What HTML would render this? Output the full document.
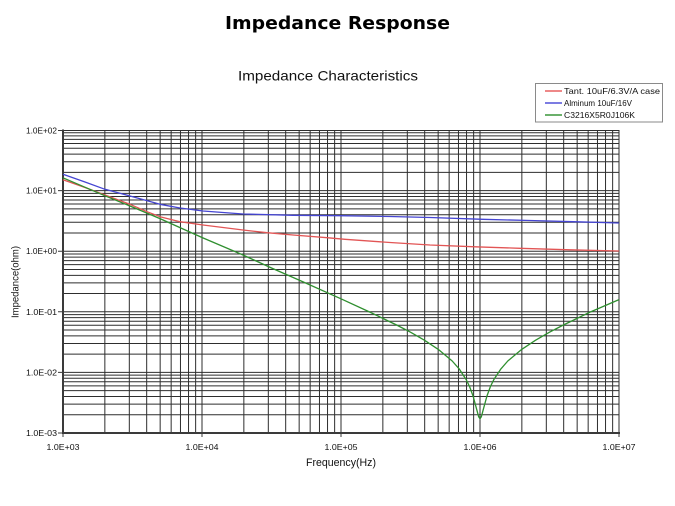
<!DOCTYPE html>
<html>
<head>
<meta charset="utf-8">
<style>
  html,body{margin:0;padding:0;background:#fff;}
  svg{display:block;}
</style>
</head>
<body>
<svg width="675" height="506" viewBox="0 0 675 506" xmlns="http://www.w3.org/2000/svg">
  <rect x="0" y="0" width="675" height="506" fill="#fff"/>

  <!-- Titles -->
  <text x="337.5" y="29" text-anchor="middle" font-family="DejaVu Sans, Liberation Sans, sans-serif" font-weight="bold" font-size="18" textLength="225" lengthAdjust="spacingAndGlyphs" fill="#000">Impedance Response</text>
  <text x="328" y="80.5" text-anchor="middle" font-family="Liberation Sans, sans-serif" font-size="14" textLength="180" lengthAdjust="spacingAndGlyphs" fill="#111">Impedance Characteristics</text>

  <!-- Legend -->
  <rect x="535.5" y="83.5" width="127" height="38.5" fill="#fff" stroke="#8a8a8a" stroke-width="1"/>
  <line x1="545" y1="91" x2="562" y2="91" stroke="#e86060" stroke-width="1.5"/>
  <line x1="545" y1="103" x2="562" y2="103" stroke="#5050d8" stroke-width="1.5"/>
  <line x1="545" y1="115" x2="562" y2="115" stroke="#3a963a" stroke-width="1.5"/>
  <g font-family="Liberation Sans, sans-serif" font-size="8.5" fill="#111">
    <text x="564" y="94" textLength="96" lengthAdjust="spacingAndGlyphs">Tant. 10uF/6.3V/A case</text>
    <text x="564" y="106" textLength="68" lengthAdjust="spacingAndGlyphs">Alminum 10uF/16V</text>
    <text x="564" y="118" textLength="71" lengthAdjust="spacingAndGlyphs">C3216X5R0J106K</text>
  </g>

  <!-- Grid -->
  <g stroke="#2e2e2e" stroke-width="1" fill="none">
    <!-- vertical lines -->
    <path d="
      M104.85 130V433 M129.32 130V433 M146.68 130V433 M160.16 130V433 M171.16 130V433 M180.47 130V433 M188.53 130V433 M195.64 130V433 M202 130V433
      M243.85 130V433 M268.32 130V433 M285.68 130V433 M299.16 130V433 M310.16 130V433 M319.47 130V433 M327.53 130V433 M334.64 130V433 M341 130V433
      M382.85 130V433 M407.32 130V433 M424.68 130V433 M438.16 130V433 M449.16 130V433 M458.47 130V433 M466.53 130V433 M473.64 130V433 M480 130V433
      M521.85 130V433 M546.32 130V433 M563.68 130V433 M577.16 130V433 M588.16 130V433 M597.47 130V433 M605.53 130V433 M612.64 130V433 M619 130V433
    "/>
    <!-- horizontal lines -->
    <path d="
      M63 414.76H619 M63 404.09H619 M63 396.52H619 M63 390.64H619 M63 385.85H619 M63 381.79H619 M63 378.27H619 M63 375.17H619 M63 372.4H619
      M63 354.16H619 M63 343.49H619 M63 335.92H619 M63 330.04H619 M63 325.25H619 M63 321.19H619 M63 317.67H619 M63 314.57H619 M63 311.8H619
      M63 293.56H619 M63 282.89H619 M63 275.32H619 M63 269.44H619 M63 264.65H619 M63 260.59H619 M63 257.07H619 M63 253.97H619 M63 251.2H619
      M63 232.96H619 M63 222.29H619 M63 214.72H619 M63 208.84H619 M63 204.05H619 M63 199.99H619 M63 196.47H619 M63 193.37H619 M63 190.6H619
      M63 172.36H619 M63 161.69H619 M63 154.12H619 M63 148.24H619 M63 143.45H619 M63 139.39H619 M63 135.87H619 M63 132.77H619 M63 130.5H619
    "/>
  </g>

  <!-- Axes -->
  <g stroke="#3a3a3a" fill="none">
    <line x1="63" y1="129.5" x2="63" y2="434" stroke-width="2"/>
    <line x1="62" y1="433" x2="620" y2="433" stroke-width="2"/>
    <!-- y ticks -->
    <path d="M58 130.5H63 M58 190.6H63 M58 251.2H63 M58 311.8H63 M58 372.4H63 M58 433H63" stroke-width="1"/>
    <!-- x ticks -->
    <path d="M63 433V437 M202 433V437 M341 433V437 M480 433V437 M619 433V437" stroke-width="1"/>
  </g>

  <!-- Y tick labels -->
  <g font-family="Liberation Sans, sans-serif" font-size="8.5" fill="#111" text-anchor="end">
    <text x="57" y="133.5" textLength="31" lengthAdjust="spacingAndGlyphs">1.0E+02</text>
    <text x="57" y="193.6" textLength="31" lengthAdjust="spacingAndGlyphs">1.0E+01</text>
    <text x="57" y="254.2" textLength="31" lengthAdjust="spacingAndGlyphs">1.0E+00</text>
    <text x="57" y="314.8" textLength="31" lengthAdjust="spacingAndGlyphs">1.0E-01</text>
    <text x="57" y="375.4" textLength="31" lengthAdjust="spacingAndGlyphs">1.0E-02</text>
    <text x="57" y="436" textLength="31" lengthAdjust="spacingAndGlyphs">1.0E-03</text>
  </g>

  <!-- X tick labels -->
  <g font-family="Liberation Sans, sans-serif" font-size="8.5" fill="#111" text-anchor="middle">
    <text x="63" y="450" textLength="33" lengthAdjust="spacingAndGlyphs">1.0E+03</text>
    <text x="202" y="450" textLength="33" lengthAdjust="spacingAndGlyphs">1.0E+04</text>
    <text x="341" y="450" textLength="33" lengthAdjust="spacingAndGlyphs">1.0E+05</text>
    <text x="480" y="450" textLength="33" lengthAdjust="spacingAndGlyphs">1.0E+06</text>
    <text x="619" y="450" textLength="33" lengthAdjust="spacingAndGlyphs">1.0E+07</text>
  </g>

  <!-- Axis titles -->
  <text x="341" y="466" text-anchor="middle" font-family="Liberation Sans, sans-serif" font-size="11" fill="#111" textLength="70" lengthAdjust="spacingAndGlyphs">Frequency(Hz)</text>
  <text transform="translate(18.5,282) rotate(-90)" x="0" y="0" text-anchor="middle" font-family="Liberation Sans, sans-serif" font-size="10" fill="#111" textLength="72" lengthAdjust="spacingAndGlyphs">Impedance(ohm)</text>

  <!-- Series -->
  <g fill="none" stroke-width="1.3" stroke-linejoin="round">
    <!-- Blue: Aluminum -->
    <polyline stroke="#4545d2" points="63,174.3 85,182 105,189.3 130,196 160,204.3 180,208 203,211 243,214 293,215.3 340,215.7 390,216.5 430,217.5 483,219.3 530,220.5 573,221.7 619,223"/>
    <!-- Red: Tantalum -->
    <polyline stroke="#e25555" points="63,179.7 85,187.5 105,195 130,204.3 147,211.7 160,216.7 180,221.7 203,225 243,230 267,232.7 293,235 327,237.7 345,239.3 390,242.5 430,245 475,246.8 520,248.3 570,249.8 619,251"/>
    <!-- Green: MLCC -->
    <polyline stroke="#2f8f2f" points="63,177.8 105,195.8 130,206 160,218.6 202,237.5 243,255 271.5,268 300,280.5 341,298.8 368.8,311.6 396.6,325 410.5,332.2 424.4,340.2 438.3,349.4 452.2,361 459.2,368.9 466.1,379.5 469.6,386.6 473.05,396 476.5,408.7 478.6,416.6 480,418.8 481.4,416.6 483.5,408.7 486.95,396 490.4,386.6 493.9,379.5 500.9,368.9 507.8,361 521.7,349.4 535.6,340.2 549.5,332.2 563.4,325 591.2,311.6 619,299.6"/>
  </g>
</svg>
</body>
</html>
